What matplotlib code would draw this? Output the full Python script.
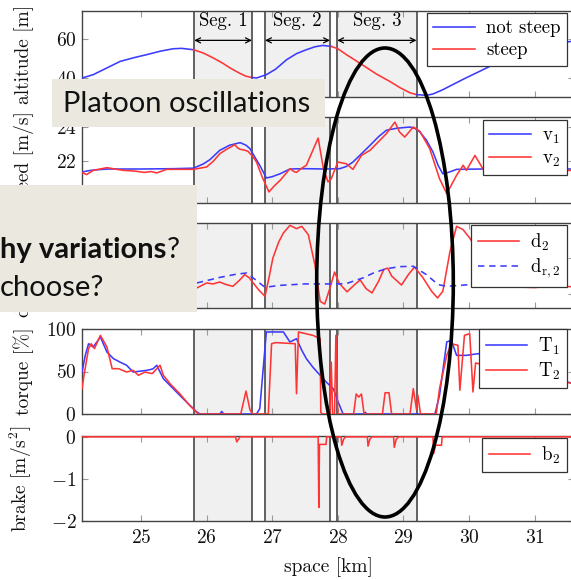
import matplotlib
matplotlib.use("Agg")
import matplotlib.pyplot as plt
from matplotlib.patches import Rectangle, Ellipse

plt.rcParams['font.family'] = 'cmr10'
plt.rcParams['mathtext.fontset'] = 'cm'
plt.rcParams['axes.formatter.use_mathtext'] = True

# ---------------- data ----------------
seg_labels = ["Seg. 1", "Seg. 2", "Seg. 3"]
seg_start = [25.81, 26.89, 27.99]
seg_end = [26.69, 27.88, 29.20]
steep_start = [25.80, 27.90]
steep_end = [26.69, 29.20]

alt_km = [24.10, 24.27, 24.50, 24.68, 24.90, 25.09, 25.30, 25.49, 25.62, 25.80,
          25.95, 26.10, 26.25, 26.36, 26.50, 26.60, 26.69,
          26.76, 26.91, 27.05, 27.22, 27.37, 27.52, 27.65, 27.77, 27.90,
          28.00, 28.13, 28.28, 28.44, 28.60, 28.79, 28.95, 29.10, 29.20,
          29.35, 29.45, 29.60, 29.75, 29.95, 30.16, 30.50, 30.90, 31.20, 31.60]
alt_m = [40.0, 41.7, 45.5, 48.5, 50.5, 52.0, 53.8, 55.0, 55.2, 54.5,
         52.8, 50.3, 47.5, 45.1, 42.5, 40.9, 40.3,
         40.0, 41.7, 44.5, 49.4, 52.5, 54.5, 56.0, 56.7, 56.2,
         55.0, 52.0, 48.8, 45.3, 41.8, 38.3, 35.0, 32.4, 31.5,
         31.1, 31.8, 34.0, 36.6, 40.0, 43.4, 49.0, 54.5, 57.0, 59.0]

v1_km = [24.10, 24.20, 24.30, 24.50, 25.00, 25.50, 25.80, 25.95, 26.05, 26.20,
         26.35, 26.51, 26.60, 26.66, 26.75, 26.81, 26.91, 27.00, 27.12, 27.27,
         27.50, 27.80, 28.03, 28.13, 28.23, 28.36, 28.49, 28.62, 28.74, 28.90,
         29.10, 29.18, 29.25, 29.35, 29.45, 29.53, 29.60, 29.70, 29.81, 30.20, 31.60]
v1 = [21.32, 21.40, 21.45, 21.50, 21.50, 21.52, 21.55, 21.80, 22.05, 22.60,
      22.90, 23.05, 22.90, 22.70, 22.10, 21.72, 20.97, 21.05, 21.22, 21.50,
      21.52, 21.50, 21.52, 21.65, 21.91, 22.40, 22.89, 23.40, 23.78, 23.90,
      23.97, 23.88, 23.68, 23.20, 22.50, 21.70, 21.22, 21.32, 21.48, 21.50, 21.50]

v2_km = [24.10, 24.17, 24.27, 24.38, 24.48, 24.60, 24.73, 24.90, 25.05, 25.15,
         25.24, 25.39, 25.60, 25.80, 26.00, 26.10, 26.20, 26.30, 26.43, 26.47,
         26.51, 26.57, 26.63, 26.70, 26.76, 26.85, 26.95, 27.03, 27.12, 27.27,
         27.33, 27.37, 27.45, 27.52, 27.70, 27.78, 27.85, 27.90, 28.00, 28.13,
         28.23, 28.36, 28.49, 28.59, 28.74, 28.87, 28.94, 29.02, 29.15, 29.25,
         29.40, 29.55, 29.66, 29.81, 29.91, 29.96, 30.09, 30.21, 30.40, 30.60,
         30.80, 31.00, 31.20, 31.40, 31.60]
v2 = [21.30, 21.17, 21.42, 21.50, 21.58, 21.50, 21.42, 21.38, 21.30, 21.35,
      21.27, 21.48, 21.48, 21.48, 21.62, 21.95, 22.40, 22.65, 22.93, 22.75,
      22.66, 22.62, 22.54, 22.25, 21.91, 21.00, 20.15, 20.50, 20.83, 21.52,
      21.35, 21.30, 21.55, 21.72, 23.32, 21.52, 20.74, 20.93, 21.91, 21.81,
      21.48, 22.30, 22.60, 22.99, 23.58, 24.26, 23.68, 23.38, 23.97, 23.72,
      22.70, 20.93, 20.05, 21.13, 21.72, 21.42, 22.30, 21.52, 21.40, 21.50,
      21.38, 21.45, 21.35, 21.45, 21.40]

d2_km = [25.85, 26.00, 26.10, 26.20, 26.30, 26.40, 26.50, 26.58, 26.65, 26.71,
         26.80, 26.89, 26.95, 27.01, 27.10, 27.17, 27.27, 27.37, 27.45, 27.55,
         27.65, 27.73, 27.80, 27.88, 27.95, 28.02, 28.14, 28.25, 28.34, 28.43,
         28.52, 28.62, 28.70, 28.76, 28.82, 28.88, 28.97, 29.08, 29.17, 29.30,
         29.43, 29.52, 29.60, 29.71, 29.81, 29.91, 30.01, 30.20, 30.40, 30.60,
         31.00, 31.30, 31.60]
d2 = [21.67, 23.06, 22.80, 23.33, 22.60, 22.13, 23.80, 25.37, 24.50, 23.06,
      21.00, 19.35, 24.50, 30.00, 34.50, 36.94, 39.07, 38.15, 38.80, 36.48,
      28.15, 17.96, 17.20, 21.67, 26.10, 23.00, 20.60, 22.50, 23.90, 21.50,
      20.30, 23.50, 26.80, 27.20, 25.00, 24.00, 22.50, 25.50, 27.50, 24.44,
      20.74, 18.90, 20.74, 31.85, 38.80, 37.86, 35.56, 30.00, 24.00, 22.00,
      21.80, 22.20, 22.00]

dr2_km = [25.85, 26.20, 26.45, 26.61, 26.71, 26.89, 27.12, 27.50, 28.00, 28.13,
          28.38, 28.55, 28.74, 28.95, 29.15, 29.35, 29.53, 29.66, 30.01, 31.60]
dr2 = [23.06, 24.60, 25.50, 25.83, 24.44, 21.86, 22.40, 22.80, 22.80, 22.90,
       24.44, 25.90, 27.03, 27.60, 27.70, 25.37, 22.60, 22.13, 22.60, 22.60]

T1_km = [24.10, 24.15, 24.20, 24.27, 24.33, 24.38, 24.48, 24.58, 24.68, 24.78,
         24.88, 25.00, 25.09, 25.18, 25.24, 25.34, 25.45, 25.59, 25.72, 25.85,
         25.90, 26.20, 26.23, 26.26, 26.76, 26.81, 26.91, 27.17, 27.27, 27.37,
         27.45, 27.52, 27.62, 27.73, 27.83, 27.93, 28.00, 28.08, 28.40, 28.42,
         28.44, 29.48, 29.55, 29.66, 29.73, 29.81, 29.96, 30.14, 30.60, 31.00, 31.60]
T1 = [49.4, 69.0, 82.7, 78.8, 85.0, 90.6, 72.9, 65.1, 61.0, 57.3,
      49.4, 50.5, 51.4, 53.0, 57.3, 41.6, 33.0, 22.0, 12.0, 2.4,
      0.0, 0.0, 3.0, 0.0, 0.0, 6.3, 96.5, 96.5, 84.7, 88.6,
      75.0, 65.1, 55.0, 45.5, 37.0, 29.8, 15.0, 0.0, 0.0, 2.0,
      0.0, 0.0, 22.0, 84.7, 86.7, 69.0, 69.0, 71.0, 60.0, 45.0, 36.0]

T2_km = [24.10, 24.13, 24.20, 24.24, 24.29, 24.38, 24.48, 24.56, 24.66, 24.78,
         24.88, 24.96, 25.06, 25.17, 25.29, 25.34, 25.45, 25.59, 25.72, 25.87,
         26.52, 26.60, 26.66, 26.70, 26.94, 26.99, 27.05, 27.35, 27.37, 27.40,
         27.62, 27.73, 27.74, 27.76, 27.88, 27.90, 27.92, 27.95, 27.97, 28.00,
         28.24, 28.28, 28.32, 28.36, 28.40, 28.68, 28.72, 28.78, 28.82, 29.10,
         29.15, 29.20, 29.22, 29.26, 29.50, 29.55, 29.66, 29.73, 29.83, 29.86,
         29.93, 30.01, 30.06, 30.10, 30.40, 31.00, 31.60]
T2 = [29.8, 45.5, 76.9, 82.7, 76.9, 92.5, 78.8, 53.3, 53.3, 49.4,
      51.4, 45.5, 49.4, 47.5, 57.3, 45.5, 35.0, 23.9, 12.0, 0.0,
      0.0, 27.0, 5.0, 0.0, 0.0, 82.7, 84.0, 82.7, 23.9, 96.5,
      92.5, 88.6, 2.0, 0.0, 0.0, 61.0, 0.0, 0.0, 92.5, 0.0,
      0.0, 23.5, 20.0, 23.5, 0.0, 0.0, 25.0, 25.0, 0.0, 0.0,
      29.8, 5.0, 22.0, 0.0, 0.0, 29.8, 69.0, 82.7, 80.8, 28.0,
      92.5, 94.5, 25.9, 60.0, 55.0, 45.0, 35.6]

b2_km = [24.10, 26.44, 26.46, 26.50, 26.51, 27.70, 27.71, 27.72, 27.82, 27.83,
         28.05, 28.06, 28.09, 28.12, 28.45, 28.46, 28.49, 28.52, 28.85, 28.86,
         28.89, 28.93, 29.45, 29.46, 29.49, 29.58, 29.59, 31.60]
b2 = [0.0, 0.0, -0.12, -0.02, 0.0, 0.0, -1.68, -0.18, -0.18, 0.0,
      0.0, -0.20, -0.05, 0.0, 0.0, -0.22, -0.05, 0.0, 0.0, -0.25,
      -0.06, 0.0, 0.0, -0.40, -0.20, -0.20, 0.0, 0.0]

x_ticks = [25, 26, 27, 28, 29, 30, 31]
ylabels = ["altitude [m]", "speed [m/s]", "distance [m]", "torque [%]", r"brake [m/s$^2$]"]
yticks = [[40, 60], [22, 24], [20, 30], [0, 50, 100], [-2, -1, 0]]
ylims = [(30.26, 74.36), (19.5, 24.56), (16.11, 39.72), (0, 100), (-2, 0.02)]

# ---------------- layout ----------------
W, H = 571, 580
fig = plt.figure(figsize=(W / 100, H / 100), dpi=100)
fx = lambda px: px / W
fy = lambda py: 1 - py / H

BLUE = '#3b3bff'
RED = '#ff3535'
LW = 1.15
left_px, right_px = 82, 574
rows = [(11, 97), (117, 203), (223, 308), (329, 414), (436, 521)]
axes = []
for top, bot in rows:
    ax = fig.add_axes([fx(left_px), fy(bot), (right_px - left_px) / W, (bot - top) / H])
    axes.append(ax)

for i, ax in enumerate(axes):
    ax.set_xlim(24.10, 31.60)
    ax.set_ylim(*ylims[i])
    for a, b in zip(seg_start, seg_end):
        ax.axvspan(a, b, color='#f0f0f0', zorder=0, lw=0)
        ax.axvline(a, color='#555555', lw=1.3, zorder=1)
        ax.axvline(b, color='#555555', lw=1.3, zorder=1)
    ax.set_xticks(x_ticks)
    ax.set_yticks(yticks[i])
    ax.tick_params(direction='in', length=4.5, width=0.8, color='#9a9a9a',
                   top=True, right=True, labelsize=14, pad=4, labelcolor='#111111')
    if i < 4:
        ax.tick_params(labelbottom=False)
    else:
        ax.tick_params(axis='x', pad=6)
    if i == 2:
        # tick labels of this panel are hidden under the slide box in the reference
        ax.tick_params(labelleft=False)
    for s in ax.spines.values():
        s.set_color('#444444')
        s.set_linewidth(1.0)
    ax.set_ylabel(ylabels[i], fontsize=14, color='#111111')
    ax.yaxis.set_label_coords((34 - left_px) / (right_px - left_px), 0.5)

# altitude: blue where not steep, red where steep
def is_steep(x):
    return any(a <= x <= b for a, b in zip(steep_start, steep_end))

run_x, run_y, run_c = [alt_km[0]], [alt_m[0]], None
for k in range(1, len(alt_km)):
    c = RED if is_steep((alt_km[k - 1] + alt_km[k]) / 2) else BLUE
    if run_c is not None and c != run_c:
        axes[0].plot(run_x, run_y, color=run_c, lw=LW, zorder=3)
        run_x, run_y = [alt_km[k - 1]], [alt_m[k - 1]]
    run_c = c
    run_x.append(alt_km[k]); run_y.append(alt_m[k])
axes[0].plot(run_x, run_y, color=run_c, lw=LW, zorder=3)
h_ns, = axes[0].plot([], [], color=BLUE, lw=LW, label='not steep')
h_s, = axes[0].plot([], [], color=RED, lw=LW, label='steep')

ay_lab, ay_arr = 69.1, 59.3
for lab, a, b in zip(seg_labels, seg_start, seg_end):
    axes[0].text((a + b) / 2, ay_lab, lab, ha='center', va='center', fontsize=13.5, zorder=4)
    axes[0].annotate('', xy=(b, ay_arr), xytext=(a, ay_arr),
                     arrowprops=dict(arrowstyle='<->', lw=0.9, color='black',
                                     shrinkA=0, shrinkB=0, mutation_scale=9), zorder=4)

axes[1].plot(v1_km, v1, color=BLUE, lw=LW, label=r'$\mathrm{v}_1$', zorder=3)
axes[1].plot(v2_km, v2, color=RED, lw=LW, label=r'$\mathrm{v}_2$', zorder=3)

axes[2].plot(d2_km, d2, color=RED, lw=LW, label=r'$\mathrm{d}_2$', zorder=3)
axes[2].plot(dr2_km, dr2, color=BLUE, lw=LW, ls=(0, (4, 3)), label=r'$\mathrm{d}_{\mathrm{r},2}$', zorder=3)

axes[3].plot(T1_km, T1, color=BLUE, lw=LW, label=r'$\mathrm{T}_1$', zorder=3)
axes[3].plot(T2_km, T2, color=RED, lw=LW, label=r'$\mathrm{T}_2$', zorder=3)

axes[4].plot(b2_km, b2, color=RED, lw=LW, label=r'$\mathrm{b}_2$', zorder=3)
axes[4].set_xlabel('space [km]', fontsize=14, color='#111111')
axes[4].xaxis.set_label_coords(0.5, (521 - 557) / (521 - 436))

leg_corner = [(567, 13), (567, 120), (567, 225), (567, 329), (567, 438)]
for i, ax in enumerate(axes):
    if i == 0:
        hs, ls = [h_ns, h_s], ['not steep', 'steep']
    else:
        hs, ls = ax.get_legend_handles_labels()
    leg = ax.legend(hs, ls, loc='upper right',
                    bbox_to_anchor=(fx(leg_corner[i][0]), fy(leg_corner[i][1])),
                    bbox_transform=fig.transFigure, borderaxespad=0,
                    fancybox=False, framealpha=1, edgecolor='#333333',
                    fontsize=13.5, handlelength=2.2, labelspacing=0.2,
                    borderpad=0.35, handletextpad=0.6)
    leg.get_frame().set_linewidth(0.9)
    leg.set_zorder(5)

# ---------------- slide overlay ----------------
ov = fig.add_axes([0, 0, 1, 1], zorder=10)
ov.set_xlim(0, W)
ov.set_ylim(H, 0)
ov.axis('off')
BOX = '#ebe8df'
ov.add_patch(Rectangle((52, 79), 273, 48, facecolor=BOX, edgecolor='none'))
ov.text(63, 111.5, 'Platoon oscillations', fontfamily='Lato', fontsize=21,
        ha='left', va='baseline', color='#111111')
ov.add_patch(Rectangle((0, 185), 197, 127, facecolor=BOX, edgecolor='none'))
t1 = ov.text(0, 258, 'hy variations', fontfamily='Lato', fontweight='bold', fontsize=21,
             ha='left', va='baseline', color='#111111')
ov.annotate('?', xy=(1, 0), xycoords=t1, ha='left', va='bottom',
            fontfamily='Lato', fontsize=21, color='#111111')
ov.text(0, 296, 'choose?', fontfamily='Lato', fontsize=21, ha='left', va='baseline',
        color='#111111')
ov.add_patch(Ellipse((385, 282.5), 136.6, 469, fill=False, lw=2.6, edgecolor='black'))

fig.savefig('out.png', dpi=100)
